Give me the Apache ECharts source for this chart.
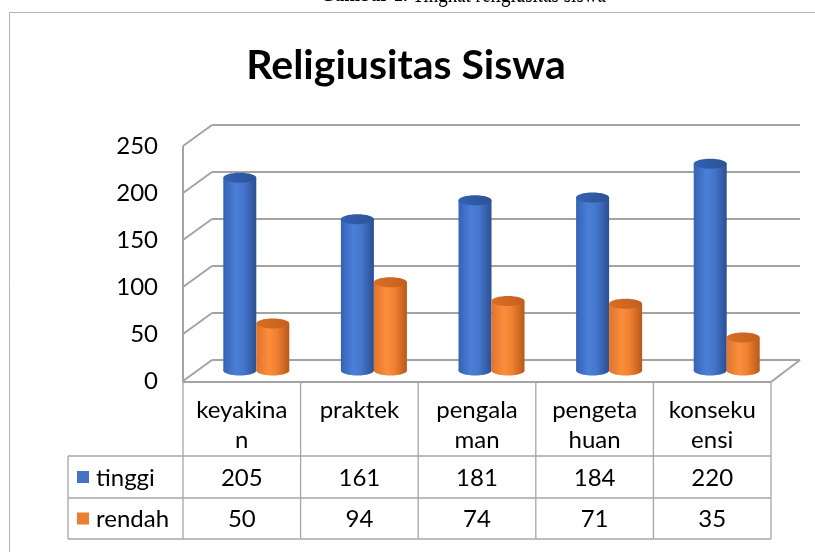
<!DOCTYPE html>
<html><head><meta charset="utf-8">
<script src="https://cdn.jsdelivr.net/npm/echarts@6/dist/echarts.min.js"></script>
<style>html,body{margin:0;padding:0;background:#fff}#c{width:815px;height:552px}</style>
</head><body><div id="c"></div>
<script>
// ---- data ----
const categories = ['keyakina\nn', 'praktek', 'pengala\nman', 'pengeta\nhuan', 'konseku\nensi'];
const seriesNames = ['tinggi', 'rendah'];
const tinggi = [205, 161, 181, 184, 220];
const rendah = [50, 94, 74, 71, 35];
const yTicks = [0, 50, 100, 150, 200, 250];
const chartTitle = 'Religiusitas Siswa';
const captionBold = 'Gambar 1.';
const captionText = ' Tingkat religiusitas siswa';

// ---- style ----
const DX = 29, DY = -21;           // depth offset front -> back
const GRID_C = '#a3a3a3';
const TABLE_C = '#a6a6a6';
const FONT = 'Lato, "Open Sans", sans-serif';
const ROWS = { headTop: 382, r1: 456, r2: 498, r3: 539 };
const CYL_W = 33, CYL_RY = 5;

const chart = echarts.init(document.getElementById('c'), null, { renderer: 'canvas' });

function cylinder(side, stops, topFill) {
  return function (params, api) {
    const i = api.value(0), v = api.value(1);
    const top = api.coord([i, v]);
    const base = api.coord([i, 0]);
    const cx0 = top[0] + DX / 2;
    const yt = top[1] + DY / 2;
    const yb = base[1] + DY / 2;
    const x0 = side < 0 ? cx0 - CYL_W : cx0;
    const cx = x0 + CYL_W / 2;
    const grad = new echarts.graphic.LinearGradient(0, 0, 1, 0, stops);
    return {
      type: 'group',
      children: [
        { type: 'ellipse', shape: { cx: cx, cy: yb, rx: CYL_W / 2, ry: CYL_RY }, style: { fill: grad } },
        { type: 'rect', shape: { x: x0, y: yt, width: CYL_W, height: yb - yt }, style: { fill: grad } },
        { type: 'ellipse', shape: { cx: cx, cy: yt, rx: CYL_W / 2, ry: CYL_RY },
          style: { fill: new echarts.graphic.LinearGradient(0, 0, 1, 0, topFill) } }
      ]
    };
  };
}

function walls(params, api) {
  const v = api.value(1);
  const band = api.size([1, 0])[0];
  const p = api.coord([0, v]);
  const xl = p[0] - band / 2;
  const xr = api.coord([categories.length - 1, v])[0] + band / 2;
  const y = p[1];
  const ls = { stroke: GRID_C, lineWidth: 2 };
  const ch = [
    { type: 'line', shape: { x1: xl, y1: y, x2: xl + DX, y2: y + DY }, style: ls }
  ];
  if (v === 0) {
    const yTop = api.coord([0, yTicks[yTicks.length - 1]])[1];
    ch.push({ type: 'line', shape: { x1: xl, y1: y + 1, x2: xr, y2: y + 1 }, style: ls });
    ch.push({ type: 'line', shape: { x1: xr, y1: y + 1, x2: xr + DX, y2: y + DY }, style: ls });
    ch.push({ type: 'line', shape: { x1: xl, y1: yTop, x2: xl, y2: y + 1 }, style: ls });
  }
  return { type: 'group', children: ch };
}

function table(params, api) {
  const i = api.value(0);
  const band = api.size([1, 0])[0];
  const cx = api.coord([i, 0])[0];
  const x0 = cx - band / 2, x1 = cx + band / 2;
  const ls = { stroke: TABLE_C, lineWidth: 1.3 };
  const tf = '24px ' + FONT;
  const ch = [
    { type: 'line', shape: { x1: x0, y1: ROWS.headTop, x2: x0, y2: ROWS.r3 }, style: ls },
    { type: 'line', shape: { x1: x0, y1: ROWS.r1, x2: x1, y2: ROWS.r1 }, style: ls },
    { type: 'line', shape: { x1: x0, y1: ROWS.r2, x2: x1, y2: ROWS.r2 }, style: ls },
    { type: 'line', shape: { x1: x0, y1: ROWS.r3, x2: x1, y2: ROWS.r3 }, style: ls },
    { type: 'text', style: { text: categories[i], x: cx, y: 395, align: 'center', verticalAlign: 'top',
        font: tf, lineHeight: 30, fill: '#000' } },
    { type: 'text', style: { text: String(tinggi[i]), x: cx, y: (ROWS.r1 + ROWS.r2) / 2 + 1, align: 'center',
        verticalAlign: 'middle', font: tf, fill: '#000' } },
    { type: 'text', style: { text: String(rendah[i]), x: cx, y: (ROWS.r2 + ROWS.r3) / 2 + 1, align: 'center',
        verticalAlign: 'middle', font: tf, fill: '#000' } }
  ];
  if (i === categories.length - 1) {
    ch.push({ type: 'line', shape: { x1: x1, y1: ROWS.headTop, x2: x1, y2: ROWS.r3 }, style: ls });
  }
  if (i === 0) {
    const lx = 68;
    ch.push({ type: 'line', shape: { x1: lx, y1: ROWS.r1, x2: x0, y2: ROWS.r1 }, style: ls });
    ch.push({ type: 'line', shape: { x1: lx, y1: ROWS.r2, x2: x0, y2: ROWS.r2 }, style: ls });
    ch.push({ type: 'line', shape: { x1: lx, y1: ROWS.r3, x2: x0, y2: ROWS.r3 }, style: ls });
    ch.push({ type: 'line', shape: { x1: lx, y1: ROWS.r1, x2: lx, y2: ROWS.r3 }, style: ls });
    const rowsY = [(ROWS.r1 + ROWS.r2) / 2, (ROWS.r2 + ROWS.r3) / 2];
    const cols = ['#4472c4', '#ed7d31'];
    seriesNames.forEach(function (n, k) {
      ch.push({ type: 'rect', shape: { x: 77, y: rowsY[k] - 6, width: 12, height: 12 }, style: { fill: cols[k] } });
      ch.push({ type: 'text', style: { text: n, x: 96, y: rowsY[k] + 1, align: 'left', verticalAlign: 'middle',
        font: tf, fill: '#000' } });
    });
  }
  return { type: 'group', children: ch };
}

const option = {
  animation: false,
  backgroundColor: '#fff',
  grid: [
    { left: 183, top: 146, width: 588, height: 235 },
    { left: 212, top: 125, width: 588, height: 235 }
  ],
  xAxis: [
    { type: 'category', gridIndex: 0, data: categories, axisLine: { show: false }, axisTick: { show: false },
      axisLabel: { show: false }, splitLine: { show: false } },
    { type: 'category', gridIndex: 1, data: categories, axisLine: { show: false }, axisTick: { show: false },
      axisLabel: { show: false }, splitLine: { show: false } }
  ],
  yAxis: [
    { type: 'value', gridIndex: 0, min: 0, max: 250, interval: 50, axisLine: { show: false },
      axisTick: { show: false }, splitLine: { show: false },
      axisLabel: { color: '#000', fontSize: 24, fontFamily: FONT, margin: 25, padding: [9, 0, 0, 0] } },
    { type: 'value', gridIndex: 1, min: 0, max: 250, interval: 50, axisLine: { show: false },
      axisTick: { show: false }, axisLabel: { show: false },
      splitLine: { show: true, lineStyle: { color: GRID_C, width: 2 } } }
  ],
  graphic: [
    { type: 'line', shape: { x1: 9.5, y1: 12.5, x2: 815, y2: 12.5 }, style: { stroke: '#b4b4b4', lineWidth: 1 } },
    { type: 'line', shape: { x1: 9.5, y1: 12.5, x2: 9.5, y2: 552 }, style: { stroke: '#b4b4b4', lineWidth: 1 } },
    { type: 'text', x: 463, y: -5, scaleX: 0.76, style: {
        text: '{b|' + captionBold + '}{n|' + captionText + '}', align: 'center', verticalAlign: 'middle',
        rich: { b: { font: 'bold 25px "Liberation Serif", serif', fill: '#000' },
                n: { font: '25px "Liberation Serif", serif', fill: '#000' } } } },
    { type: 'text', x: 406, y: 66, style: { text: chartTitle, align: 'center', verticalAlign: 'middle',
        font: 'bold 41px ' + FONT, fill: '#000' } }
  ],
  series: [
    { type: 'custom', name: 'walls', xAxisIndex: 0, yAxisIndex: 0, renderItem: walls, clip: false, silent: true,
      data: yTicks.map(function (v) { return [0, v]; }), z: 1 },
    { type: 'custom', name: seriesNames[0], xAxisIndex: 0, yAxisIndex: 0, clip: false, z: 3,
      renderItem: cylinder(-1, [{ offset: 0, color: '#3662b4' }, { offset: 0.38, color: '#4a7fd8' },
        { offset: 0.62, color: '#4576cc' }, { offset: 1, color: '#2b4f92' }],
        [{ offset: 0, color: '#3360b0' }, { offset: 1, color: '#2c5399' }]),
      data: tinggi.map(function (v, i) { return [i, v]; }) },
    { type: 'custom', name: seriesNames[1], xAxisIndex: 0, yAxisIndex: 0, clip: false, z: 4,
      renderItem: cylinder(1, [{ offset: 0, color: '#e2742a' }, { offset: 0.38, color: '#fb8d3d' },
        { offset: 0.62, color: '#f0812f' }, { offset: 1, color: '#b9581a' }],
        [{ offset: 0, color: '#d86e25' }, { offset: 1, color: '#c4601d' }]),
      data: rendah.map(function (v, i) { return [i, v]; }) },
    { type: 'custom', name: 'table', xAxisIndex: 0, yAxisIndex: 0, renderItem: table, clip: false, silent: true,
      data: categories.map(function (c, i) { return [i, 0]; }), z: 2 }
  ]
};
chart.setOption(option);
</script>
</body></html>
